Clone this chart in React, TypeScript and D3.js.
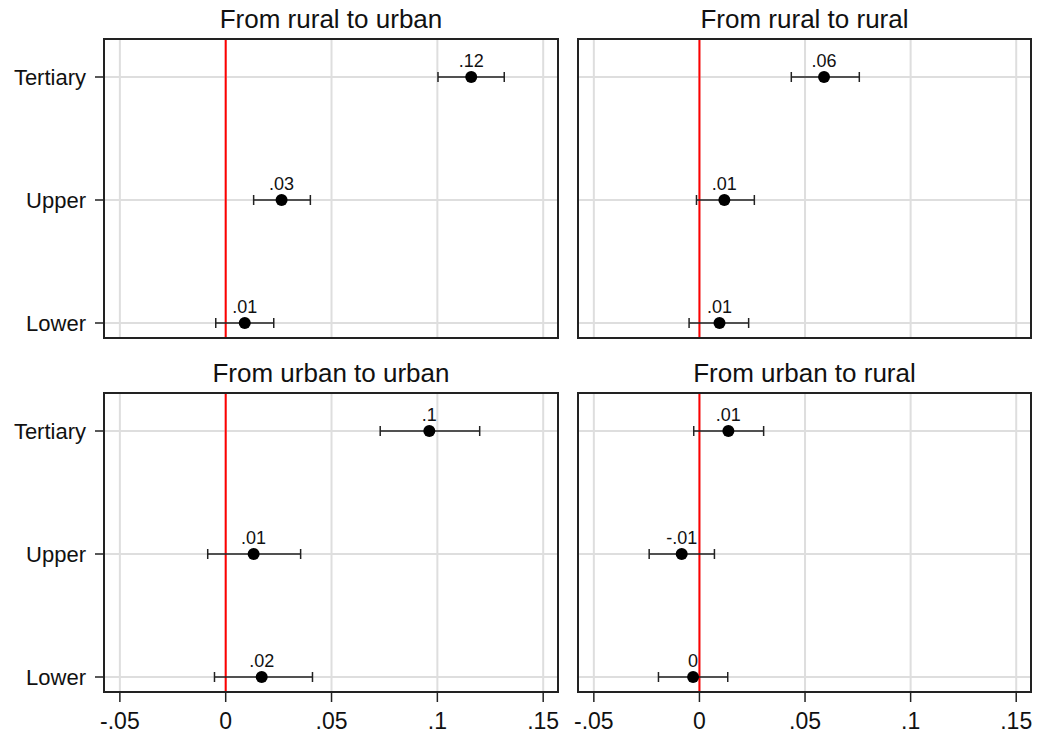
import React from "react";
import * as d3 from "d3";

// categories on the y axis, top to bottom
const categories = ["Tertiary", "Upper", "Lower"];
const panelTitles = [
  "From rural to urban",
  "From rural to rural",
  "From urban to urban",
  "From urban to rural",
];
const xTicks = [-0.05, 0, 0.05, 0.1, 0.15];

// point estimates and 95% CI per panel (Tertiary, Upper, Lower)
const ruralUrbanEst = [0.116, 0.0264, 0.009];
const ruralUrbanLo = [0.1003, 0.0132, -0.0047];
const ruralUrbanHi = [0.1316, 0.04, 0.0227];

const ruralRuralEst = [0.059, 0.0118, 0.0095];
const ruralRuralLo = [0.0435, -0.0014, -0.0049];
const ruralRuralHi = [0.0757, 0.026, 0.0233];

const urbanUrbanEst = [0.0962, 0.0132, 0.017];
const urbanUrbanLo = [0.073, -0.0085, -0.0053];
const urbanUrbanHi = [0.12, 0.0354, 0.041];

const urbanRuralEst = [0.0137, -0.0084, -0.003];
const urbanRuralLo = [-0.0027, -0.0238, -0.0194];
const urbanRuralHi = [0.0304, 0.0071, 0.0134];

const panelEst = [ruralUrbanEst, ruralRuralEst, urbanUrbanEst, urbanRuralEst];
const panelLo = [ruralUrbanLo, ruralRuralLo, urbanUrbanLo, urbanRuralLo];
const panelHi = [ruralUrbanHi, ruralRuralHi, urbanUrbanHi, urbanRuralHi];

const FONT = "'Liberation Sans', Arial, Helvetica, sans-serif";
const GRID = "#dedede";

// stata style number: .12, -.01, 0
const fmt = (v: number) => {
  const r = Math.round(v * 100) / 100;
  if (r === 0) return "0";
  return String(r).replace("0.", ".");
};

const cols = [
  { x0: 104, x1: 558 },
  { x0: 578, x1: 1031 },
];
const rows = [
  { y0: 39, y1: 338 },
  { y0: 393, y1: 692 },
];

const Panel = ({ idx }: { idx: number }) => {
  const col = cols[idx % 2];
  const row = rows[Math.floor(idx / 2)];
  const showY = idx % 2 === 0;
  const showX = idx >= 2;

  const x = d3.scaleLinear().domain([-0.0575, 0.157]).range([col.x0, col.x1]);
  const y = d3
    .scalePoint<string>()
    .domain(categories)
    .range([row.y0 + 38, row.y1 - 15]);

  const est = panelEst[idx];
  const lo = panelLo[idx];
  const hi = panelHi[idx];

  return (
    <g>
      <text
        x={(col.x0 + col.x1) / 2}
        y={row.y0 - 11}
        textAnchor="middle"
        fontSize={26}
        fill="#111"
      >
        {panelTitles[idx]}
      </text>

      {/* grid */}
      {xTicks.map((t) => (
        <line
          key={"gx" + t}
          x1={x(t)}
          x2={x(t)}
          y1={row.y0}
          y2={row.y1}
          stroke={GRID}
          strokeWidth={2}
        />
      ))}
      {categories.map((c) => (
        <line
          key={"gy" + c}
          x1={col.x0}
          x2={col.x1}
          y1={y(c)}
          y2={y(c)}
          stroke={GRID}
          strokeWidth={2}
        />
      ))}

      {/* reference line at zero */}
      <line
        x1={x(0)}
        x2={x(0)}
        y1={row.y0}
        y2={row.y1}
        stroke="#ff0000"
        strokeWidth={2}
      />

      <rect
        x={col.x0}
        y={row.y0}
        width={col.x1 - col.x0}
        height={row.y1 - row.y0}
        fill="none"
        stroke="#222"
        strokeWidth={2}
      />

      {showY &&
        categories.map((c) => (
          <g key={"yt" + c}>
            <line
              x1={col.x0 - 9}
              x2={col.x0}
              y1={y(c)}
              y2={y(c)}
              stroke="#222"
              strokeWidth={1.5}
            />
            <text
              x={col.x0 - 18}
              y={y(c)}
              dy="0.35em"
              textAnchor="end"
              fontSize={22}
              fill="#111"
            >
              {c}
            </text>
          </g>
        ))}

      {showX &&
        xTicks.map((t) => (
          <g key={"xt" + t}>
            <line
              x1={x(t)}
              x2={x(t)}
              y1={row.y1}
              y2={row.y1 + 10}
              stroke="#222"
              strokeWidth={1.5}
            />
            <text
              x={x(t)}
              y={row.y1 + 37}
              textAnchor="middle"
              fontSize={23}
              fill="#111"
            >
              {fmt(t)}
            </text>
          </g>
        ))}

      {/* error bars and points */}
      {categories.map((c, i) => {
        const cy = y(c) as number;
        return (
          <g key={"pt" + c}>
            <line
              x1={x(lo[i])}
              x2={x(hi[i])}
              y1={cy}
              y2={cy}
              stroke="#222"
              strokeWidth={1.5}
            />
            <line
              x1={x(lo[i])}
              x2={x(lo[i])}
              y1={cy - 5}
              y2={cy + 5}
              stroke="#222"
              strokeWidth={1.5}
            />
            <line
              x1={x(hi[i])}
              x2={x(hi[i])}
              y1={cy - 5}
              y2={cy + 5}
              stroke="#222"
              strokeWidth={1.5}
            />
            <circle cx={x(est[i])} cy={cy} r={6} fill="#000" />
            <text
              x={x(est[i])}
              y={cy - 10}
              textAnchor="middle"
              fontSize={18}
              fill="#111"
            >
              {fmt(est[i])}
            </text>
          </g>
        );
      })}
    </g>
  );
};

export default function App() {
  return (
    <svg
      width={1040}
      height={737}
      style={{ position: "absolute", left: 0, top: 0, background: "#fff" }}
      fontFamily={FONT}
    >
      <rect width={1040} height={737} fill="#fff" />
      {[0, 1, 2, 3].map((i) => (
        <Panel key={i} idx={i} />
      ))}
    </svg>
  );
}
